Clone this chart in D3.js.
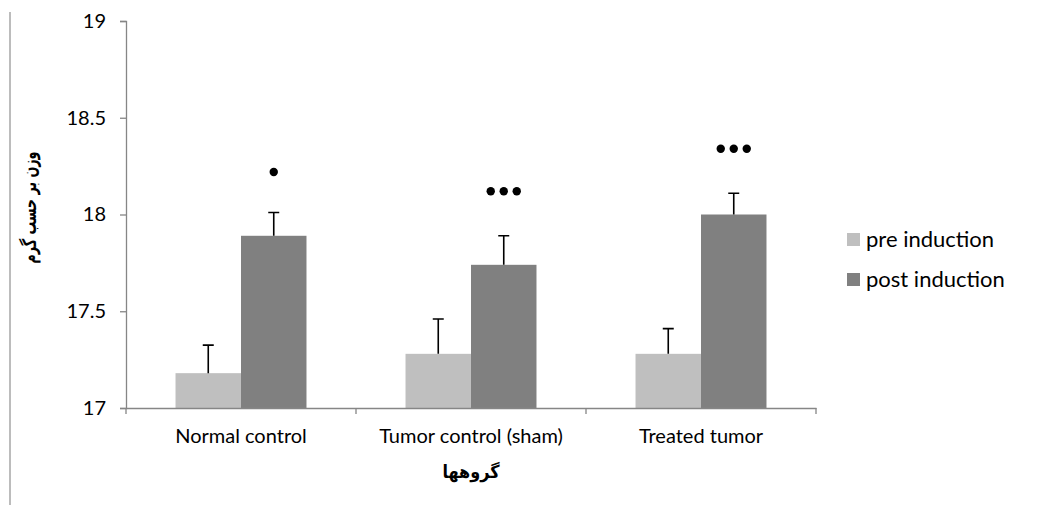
<!DOCTYPE html>
<html>
<head>
<meta charset="utf-8">
<script src="https://cdn.jsdelivr.net/npm/d3@7"></script>
<style>
  html, body { margin: 0; padding: 0; background: #fff; }
  svg { display: block; }
</style>
</head>
<body>
<svg id="chart" width="1040" height="505"></svg>
<script>
// ---- data ----
const categories = ["Normal control", "Tumor control (sham)", "Treated tumor"];
const series = ["pre induction", "post induction"];
const preValues = [17.18, 17.28, 17.28];
const postValues = [17.89, 17.74, 18.00];
const preErrors = [0.145, 0.18, 0.13];
const postErrors = [0.12, 0.15, 0.11];
const sigMarks = [1, 3, 3];          // number of significance dots over post bars
const sigLevels = [18.22, 18.12, 18.34];
const yTicks = [17, 17.5, 18, 18.5, 19];
const yTitle = "وزن بر حسب گرم";
const xTitle = "گروهها";
const colors = ["#bfbfbf", "#808080"];

const svg = d3.select("#chart");
const W = 1040, H = 505;
const margin = { top: 21, right: 224, bottom: 97, left: 126 };
const iw = W - margin.left - margin.right;
const ih = H - margin.top - margin.bottom;

const latin = "Lato, 'Open Sans', sans-serif";
const arabic = "'DejaVu Sans', sans-serif";

// outer border line at left
svg.append("line")
  .attr("x1", 10).attr("x2", 10).attr("y1", 12).attr("y2", H)
  .attr("stroke", "#a6a6a6").attr("stroke-width", 1.5);

const g = svg.append("g").attr("transform", `translate(${margin.left},${margin.top})`);

const x0 = d3.scaleBand().domain(categories).range([0, iw]).paddingInner(0).paddingOuter(0);
const x1 = d3.scaleBand().domain(series).range([0, x0.bandwidth()]).paddingInner(0).paddingOuter(0.756);
const y = d3.scaleLinear().domain([17, 19]).range([ih, 0]);

const rows = categories.map((c, i) => ({
  cat: c,
  vals: [
    { s: series[0], v: preValues[i], e: preErrors[i] },
    { s: series[1], v: postValues[i], e: postErrors[i] }
  ],
  sig: sigMarks[i], sigY: sigLevels[i]
}));

// bars
const grp = g.selectAll(".grp").data(rows).enter().append("g")
  .attr("transform", d => `translate(${x0(d.cat)},0)`);

grp.selectAll("rect").data(d => d.vals).enter().append("rect")
  .attr("x", d => x1(d.s))
  .attr("width", x1.bandwidth())
  .attr("y", d => y(d.v))
  .attr("height", d => y(17) - y(d.v))
  .attr("fill", (d, i) => colors[i]);

// error bars
const cap = 5.5;
grp.selectAll(".err").data(d => d.vals).enter().append("path")
  .attr("d", d => {
    const cx = x1(d.s) + x1.bandwidth() / 2;
    const y0 = y(d.v), y1 = y(d.v + d.e);
    return `M${cx},${y0}V${y1}M${cx - cap},${y1}H${cx + cap}`;
  })
  .attr("fill", "none").attr("stroke", "#000").attr("stroke-width", 1.6);

// significance dots
grp.each(function(d) {
  const cx = x1(series[1]) + x1.bandwidth() / 2;
  const n = d.sig;
  d3.select(this).selectAll(".dot").data(d3.range(n)).enter().append("circle")
    .attr("cx", k => cx + (k - (n - 1) / 2) * 13)
    .attr("cy", y(d.sigY))
    .attr("r", 4.2)
    .attr("fill", "#000");
});

// y axis
const yAxis = g.append("g")
  .call(d3.axisLeft(y).tickValues(yTicks).tickFormat(d => String(d)).tickSize(6).tickPadding(14));
yAxis.select(".domain").attr("stroke", "#868686").attr("stroke-width", 1.3);
yAxis.selectAll(".tick line").attr("stroke", "#868686").attr("stroke-width", 1.3);
yAxis.selectAll("text").attr("font-family", latin).attr("font-size", 20).attr("fill", "#000");

// x axis
const xAxis = g.append("g").attr("transform", `translate(0,${ih})`)
  .call(d3.axisBottom(x0).tickSize(0).tickPadding(21));
xAxis.select(".domain").attr("stroke", "#868686").attr("stroke-width", 1.3);
xAxis.selectAll("text").attr("font-family", latin).attr("font-size", 20).attr("fill", "#000");

// category boundary ticks
const bounds = categories.map(c => x0(c)).concat([x0.range()[1]]);
xAxis.selectAll(".bt").data(bounds).enter().append("line")
  .attr("x1", d => d).attr("x2", d => d).attr("y1", 0).attr("y2", 6)
  .attr("stroke", "#868686").attr("stroke-width", 1.3);

// axis titles
g.append("text")
  .attr("transform", `translate(${-90},${ih / 2 - 7}) rotate(-90)`)
  .attr("text-anchor", "middle")
  .attr("font-family", arabic).attr("font-weight", "bold").attr("font-size", 19)
  .attr("textLength", 112).attr("lengthAdjust", "spacingAndGlyphs")
  .attr("direction", "rtl")
  .text(yTitle);

g.append("text")
  .attr("x", iw / 2).attr("y", ih + 70)
  .attr("text-anchor", "middle")
  .attr("font-family", arabic).attr("font-weight", "bold").attr("font-size", 18)
  .attr("textLength", 57).attr("lengthAdjust", "spacingAndGlyphs")
  .attr("direction", "rtl")
  .text(xTitle);

// legend
const legend = svg.append("g").attr("transform", "translate(847,233)");
series.forEach((s, i) => {
  const lg = legend.append("g").attr("transform", `translate(0,${i * 40})`);
  lg.append("rect").attr("width", 13).attr("height", 13).attr("fill", colors[i]);
  lg.append("text").attr("x", 19).attr("y", 14)
    .attr("font-family", latin).attr("font-size", 22).attr("fill", "#000")
    .text(s);
});
</script>
</body>
</html>
